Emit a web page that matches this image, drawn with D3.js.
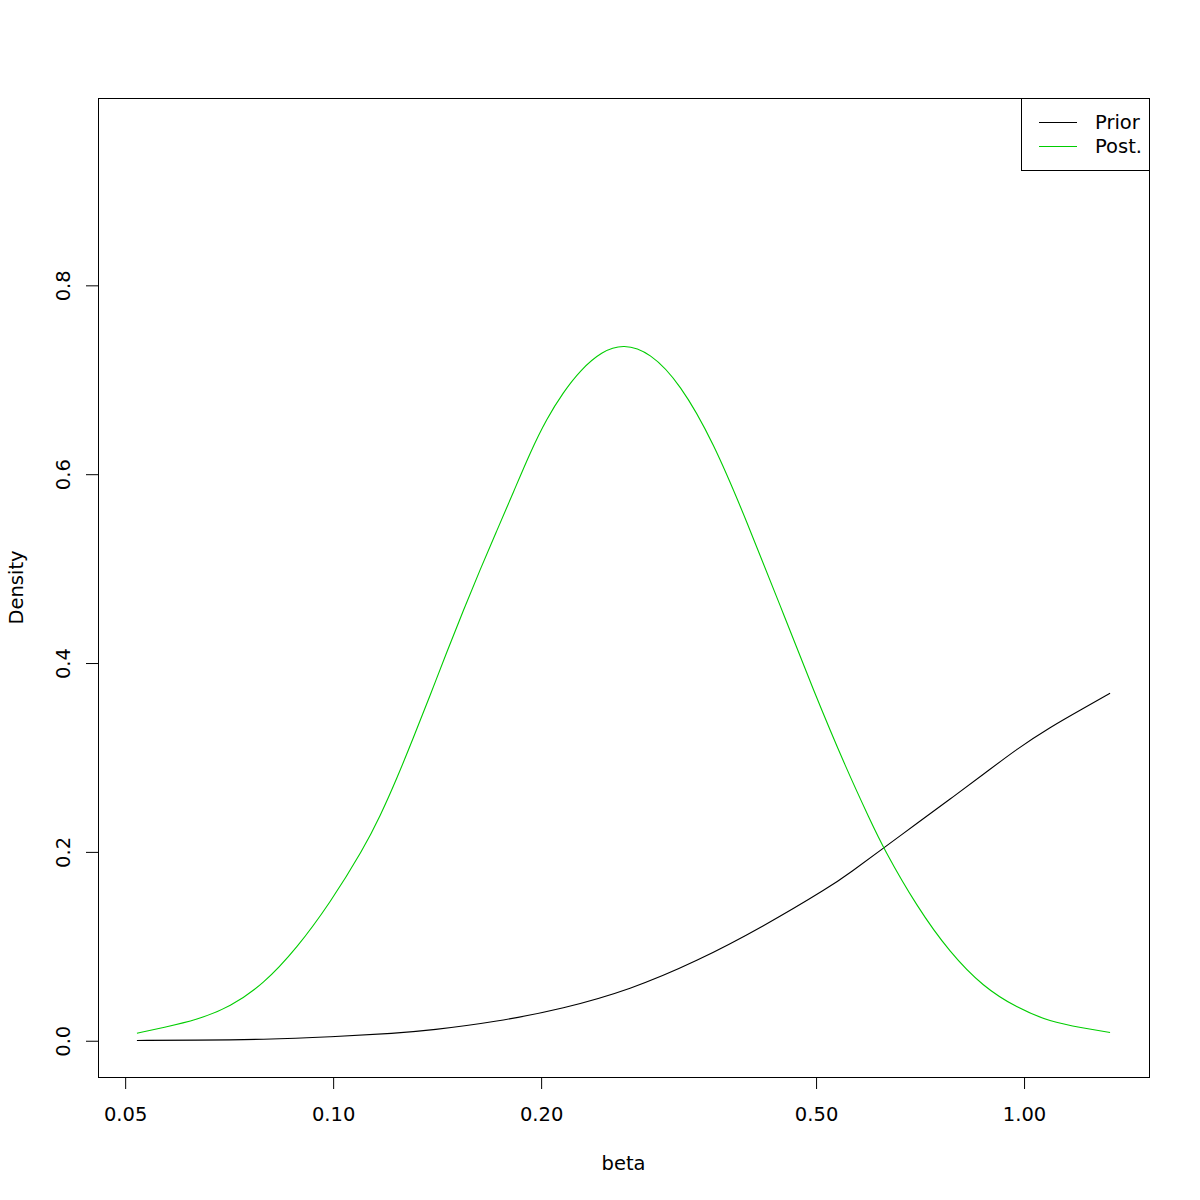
<!DOCTYPE html>
<html>
<head>
<meta charset="utf-8">
<script src="https://cdn.jsdelivr.net/npm/d3@7"></script>
<style>
  html, body { margin: 0; padding: 0; background: #ffffff; }
  svg { display: block; }
  text { font-family: "DejaVu Sans", sans-serif; fill: #000; }
</style>
</head>
<body>
<svg id="chart" width="1200" height="1200"></svg>
<script>
// ---- data ----
const postBeta = [0.0520, 0.0568, 0.0635, 0.0710, 0.0793, 0.0886, 0.0990, 0.1106, 0.1170, 0.1237, 0.1307, 0.1382, 0.1461, 0.1544, 0.1632, 0.1725, 0.1824, 0.1928, 0.2038, 0.2154, 0.2278, 0.2447, 0.2631, 0.2876, 0.3178, 0.3551, 0.3969, 0.4436, 0.4956, 0.5538, 0.5985, 0.6258, 0.6995, 0.7816, 0.8731, 0.9759, 1.0905, 1.2185, 1.332];
const postDens = [0.008, 0.014, 0.022, 0.036, 0.060, 0.098, 0.146, 0.203, 0.238, 0.278, 0.321, 0.366, 0.412, 0.456, 0.499, 0.540, 0.581, 0.623, 0.659, 0.687, 0.710, 0.730, 0.738, 0.729, 0.696, 0.634, 0.550, 0.461, 0.371, 0.287, 0.234, 0.204, 0.142, 0.093, 0.057, 0.035, 0.020, 0.0135, 0.0088];

const priorBeta = [0.0520, 0.0635, 0.0793, 0.0990, 0.1237, 0.1382, 0.1725, 0.2154, 0.2690, 0.3360, 0.4195, 0.5238, 0.5601, 0.6258, 0.6995, 0.7816, 0.8731, 0.9759, 1.0905, 1.2185, 1.332];
const priorDens = [0.0003, 0.0006, 0.0013, 0.004, 0.008, 0.011, 0.020, 0.034, 0.054, 0.084, 0.121, 0.163, 0.178, 0.204, 0.230, 0.256, 0.282, 0.309, 0.332, 0.352, 0.368];

const xTicks = [0.05, 0.10, 0.20, 0.50, 1.00];
const xTickLabels = ["0.05", "0.10", "0.20", "0.50", "1.00"];
const yTicks = [0.0, 0.2, 0.4, 0.6, 0.8];
const yTickLabels = ["0.0", "0.2", "0.4", "0.6", "0.8"];
const yMax = 0.96;

const seriesNames = ["Prior", "Post."];
const seriesColors = ["#000000", "#00CD00"];

// ---- layout ----
const plot = { left: 98, right: 1149, top: 98, bottom: 1077 };
const fontSize = 19.5;

const svg = d3.select("#chart");

// R-style 4% axis extension
const lx0 = Math.log10(d3.min(postBeta.concat(priorBeta)));
const lx1 = Math.log10(d3.max(postBeta.concat(priorBeta)));
const padX = (lx1 - lx0) * 0.04;
const x = d3.scaleLog()
  .domain([Math.pow(10, lx0 - padX), Math.pow(10, lx1 + padX)])
  .range([plot.left, plot.right]);

const padY = yMax * 0.04;
const y = d3.scaleLinear()
  .domain([-padY, yMax + padY])
  .range([plot.bottom, plot.top]);

// ---- axes ----
const xAxis = d3.axisBottom(x)
  .tickValues(xTicks)
  .tickFormat((d, i) => xTickLabels[i])
  .tickSize(12)
  .tickSizeOuter(0)
  .tickPadding(0);

const gx = svg.append("g")
  .attr("transform", `translate(0,${plot.bottom})`)
  .call(xAxis);
gx.select(".domain").remove();
gx.selectAll(".tick line").attr("stroke", "#000").attr("stroke-width", 1);
gx.selectAll(".tick text")
  .attr("y", 37)
  .attr("dy", "0.35em")
  .style("font-size", fontSize + "px")
  .style("font-family", "DejaVu Sans, sans-serif");

const yAxis = d3.axisLeft(y)
  .tickValues(yTicks)
  .tickFormat((d, i) => yTickLabels[i])
  .tickSize(12)
  .tickSizeOuter(0);

const gy = svg.append("g")
  .attr("transform", `translate(${plot.left},0)`)
  .call(yAxis);
gy.select(".domain").remove();
gy.selectAll(".tick line").attr("stroke", "#000").attr("stroke-width", 1);
gy.selectAll(".tick text")
  .attr("x", 0)
  .attr("y", 0)
  .attr("dy", "0.35em")
  .attr("text-anchor", "middle")
  .attr("transform", "translate(-35,0) rotate(-90)")
  .style("font-size", fontSize + "px")
  .style("font-family", "DejaVu Sans, sans-serif");

// ---- plot box ----
svg.append("rect")
  .attr("x", plot.left + 0.5)
  .attr("y", plot.top + 0.5)
  .attr("width", plot.right - plot.left)
  .attr("height", plot.bottom - plot.top)
  .attr("fill", "none")
  .attr("stroke", "#000")
  .attr("stroke-width", 1);

// ---- curves ----
const line = d3.line()
  .x(d => x(d[0]))
  .y(d => y(d[1]))
  .curve(d3.curveBasis);

const priorData = priorBeta.map((b, i) => [b, priorDens[i]]);
const postData = postBeta.map((b, i) => [b, postDens[i]]);

svg.append("path")
  .datum(priorData)
  .attr("d", line)
  .attr("fill", "none")
  .attr("stroke", seriesColors[0])
  .attr("stroke-width", 1.1);

svg.append("path")
  .datum(postData)
  .attr("d", line)
  .attr("fill", "none")
  .attr("stroke", seriesColors[1])
  .attr("stroke-width", 1.1);

// ---- axis titles ----
svg.append("text")
  .attr("x", (plot.left + plot.right) / 2)
  .attr("y", 1163)
  .attr("dy", "0.35em")
  .attr("text-anchor", "middle")
  .style("font-size", fontSize + "px")
  .text("beta");

svg.append("text")
  .attr("transform", `translate(16,${(plot.top + plot.bottom) / 2}) rotate(-90)`)
  .attr("dy", "0.35em")
  .attr("text-anchor", "middle")
  .style("font-size", fontSize + "px")
  .text("Density");

// ---- legend ----
const legend = { left: 1021, top: 98, right: 1149, bottom: 170 };
svg.append("rect")
  .attr("x", legend.left + 0.5)
  .attr("y", legend.top + 0.5)
  .attr("width", legend.right - legend.left)
  .attr("height", legend.bottom - legend.top)
  .attr("fill", "#fff")
  .attr("stroke", "#000")
  .attr("stroke-width", 1);

seriesNames.forEach((name, i) => {
  const cy = 122 + i * 24;
  svg.append("line")
    .attr("x1", 1039).attr("x2", 1077)
    .attr("y1", cy + 0.5).attr("y2", cy + 0.5)
    .attr("stroke", seriesColors[i])
    .attr("stroke-width", 1.1);
  svg.append("text")
    .attr("x", 1095)
    .attr("y", cy)
    .attr("dy", "0.35em")
    .style("font-size", fontSize + "px")
    .text(name);
});
</script>
</body>
</html>
